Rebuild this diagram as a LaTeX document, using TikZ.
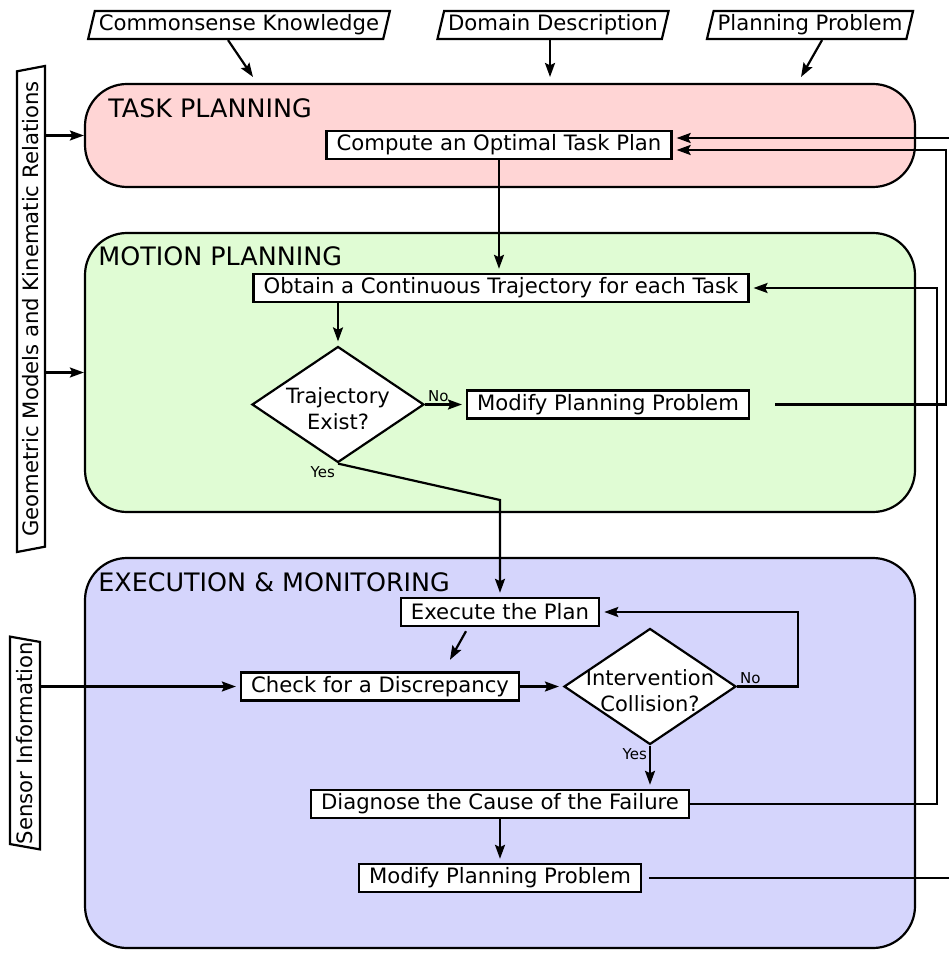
\documentclass[tikz,border=0pt]{standalone}
\usepackage{fontspec}
\setmainfont{DejaVu Sans}
\usetikzlibrary{shapes.geometric,arrows.meta}

\definecolor{taskpink}{RGB}{255,213,213}
\definecolor{motiongreen}{RGB}{224,252,212}
\definecolor{execblue}{RGB}{213,213,252}

\tikzset{
  area/.style={draw, line width=1.1pt, rounded corners=21pt, minimum width=415pt},
  areatitle/.style={anchor=base west, inner sep=0pt, font=\fontsize{12.7}{15}\selectfont},
  stepbox/.style={draw, fill=white, line width=1.2pt, inner xsep=5pt, inner ysep=0pt, minimum height=14pt},
  srcbox/.style={draw, fill=white, trapezium, trapezium left angle=72, trapezium right angle=108,
    trapezium stretches body, line width=1.1pt, inner xsep=2pt, inner ysep=0pt, minimum height=14pt},
  decision/.style={draw, fill=white, diamond, line width=1.1pt, minimum width=86pt, minimum height=58pt, inner sep=0pt},
  dtext/.style={align=center, inner sep=0pt, font=\fontsize{10.5}{13}\selectfont},
  arr/.style={-{Stealth[length=7pt,width=5pt,inset=1.2pt]}, line width=1.1pt, shorten >=2pt},
  yn/.style={font=\fontsize{7.5}{9}\selectfont, inner sep=1pt}
}

\begin{document}
\begin{tikzpicture}[x=0.5pt, y=-0.5pt, font=\fontsize{10.6}{12.7}\selectfont]
  \useasboundingbox (0,0) rectangle (948,956);

  % the three layers
  \node[area, fill=taskpink, minimum height=51.5pt] (task) at (500,135.5) {};
  \node[area, fill=motiongreen, minimum height=139.5pt] (motion) at (500,372.5) {};
  \node[area, fill=execblue, minimum height=195pt] (exec) at (500,753) {};
  \node[areatitle] (tasktitle) at (108,118) {TASK PLANNING};
  \node[areatitle] (motiontitle) at (98,266) {MOTION PLANNING};
  \node[areatitle] (exectitle) at (98,591) {EXECUTION \& MONITORING};

  % inputs
  \node[srcbox] (ck) at (239,25) {Commonsense Knowledge};
  \node[srcbox] (dd) at (553,25) {Domain Description};
  \node[srcbox] (pp) at (810,25) {Planning Problem};
  \node[srcbox, rotate=90, inner xsep=5pt, trapezium left angle=108, trapezium right angle=72] (geo) at (31,309) {Geometric Models and Kinematic Relations};
  \node[srcbox, rotate=90, inner xsep=0pt, minimum height=15pt] (sensor) at (25,743) {Sensor Information};

  % steps
  \node[stepbox] (compute) at (499,145) {Compute an Optimal Task Plan};
  \node[stepbox] (obtain) at (501,288) {Obtain a Continuous Trajectory for each Task};
  \node[decision] (traj) at (338,404.5) {};
  \node[dtext] (trajtext) at (338,409) {Trajectory\\Exist?};
  \node[stepbox] (modm) at (608,404.5) {Modify Planning Problem};
  \node[stepbox] (execute) at (500,612) {Execute the Plan};
  \node[stepbox] (check) at (380,686.5) {Check for a Discrepancy};
  \node[decision] (inter) at (650,686.5) {};
  \node[dtext] (intertext) at (650,691) {Intervention\\Collision?};
  \node[stepbox] (diag) at (500,804) {Diagnose the Cause of the Failure};
  \node[stepbox] (modx) at (500,878) {Modify Planning Problem};

  \coordinate (ckend) at (253,77);
  \coordinate (ddend) at (550,77);
  \coordinate (ppend) at (801,77);
  \coordinate (yesbend) at (500,500);
  \coordinate (railA) at (946,0);
  \coordinate (railB) at (937,0);
  \coordinate (railC) at (956,0);
  \coordinate (railD) at (798,0);

  % inputs to layers
  \draw[arr, shorten >=0pt] ([xshift=-5.5pt]ck.south) -- (ckend);
  \draw[arr, shorten >=0pt] (dd.south -| ddend) -- (ddend);
  \draw[arr, shorten >=0pt] ([xshift=6pt]pp.south) -- (ppend);
  \draw[arr, shorten >=0pt] (geo.south |- task.west) -- (task.west);
  \draw[arr, shorten >=0pt] (geo.south |- motion.west) -- (motion.west);
  \draw[arr] (sensor.south |- check.west) -- (check.west);

  % flow
  \draw[arr] (compute.south) -- (compute.south |- obtain.north);
  \draw[arr] (traj.north |- obtain.south) -- (traj.north);
  \draw[arr] (traj.east) node[yn, anchor=south west] (trajno) {No} -- (modm.west);
  \draw[arr] (traj.south) node[yn, anchor=north east] (trajyes) {Yes} -- (yesbend) -- (execute.north);
  \draw[arr] ([xshift=-17pt,yshift=-2pt]execute.south) -- ([xshift=34pt,yshift=4pt]check.north);
  \draw[arr] (check.east) -- (inter.west);
  \draw[arr] (inter.east) node[yn, anchor=south west] (interno) {No} -- (inter.east -| railD) |- (execute.east);
  \draw[arr] (inter.south) node[yn, anchor=north east] (interyes) {Yes} -- (inter.south |- diag.north);
  \draw[arr] (diag.south) -- (modx.north);

  % feedback
  \draw[arr] ([xshift=12.5pt]modm.east) -- (modm.east -| railA) |- ([yshift=-2.5pt]compute.east);
  \draw[arr] (diag.east) -- (diag.east -| railB) |- (obtain.east);
  \draw[arr] ([xshift=3.5pt]modx.east) -- (modx.east -| railC) |- ([yshift=3.5pt]compute.east);
\end{tikzpicture}
\end{document}
